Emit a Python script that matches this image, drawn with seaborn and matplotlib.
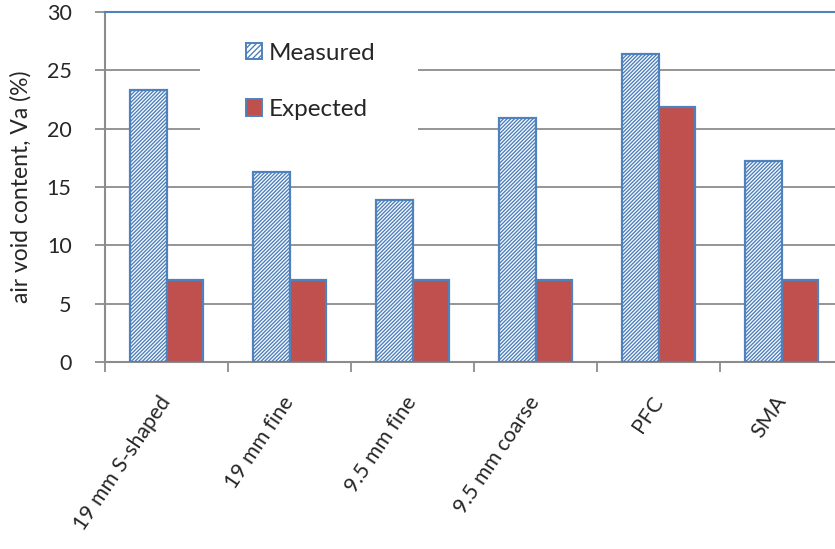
import pandas as pd
import numpy as np
import matplotlib
matplotlib.use("Agg")
import matplotlib.pyplot as plt
import seaborn as sns
from matplotlib.patches import Patch, Rectangle
from matplotlib.ticker import FixedLocator

# data
mixes = ["19 mm S-shaped", "19 mm fine", "9.5 mm fine", "9.5 mm coarse", "PFC", "SMA"]
measured = [23.3, 16.3, 13.9, 20.9, 26.4, 17.2]
expected = [7.0, 7.0, 7.0, 7.0, 21.9, 7.0]

df = pd.DataFrame({
    "mix": mixes * 2,
    "va": measured + expected,
    "type": ["Measured"] * len(mixes) + ["Expected"] * len(mixes),
})

sns.set_style("white")
plt.rcParams["font.family"] = ["Lato", "DejaVu Sans"]
plt.rcParams["hatch.linewidth"] = 1.0

blue = "#4F81BD"
red = "#C0504D"
grey = "#8C8C8C"

fig = plt.figure(figsize=(8.35, 5.49), dpi=100)
ax = fig.add_axes([105 / 835, 1 - 362 / 549, 1 - 105 / 835, 350 / 549])

sns.barplot(data=df, x="mix", y="va", hue="type", order=mixes,
            hue_order=["Measured", "Expected"],
            palette={"Measured": "white", "Expected": red}, saturation=1,
            width=0.59, ax=ax, legend=False, zorder=3)

n = len(mixes)
for i, p in enumerate(ax.patches):
    p.set_edgecolor(blue)
    p.set_linewidth(1.6)
    if i < n:
        p.set_facecolor("white")
        p.set_hatch("/////////")

ax.set_ylim(0, 30)
ax.set_yticks(range(0, 31, 5))
ax.set_xlim(-0.5, -0.5 + 730 / 123)

ax.yaxis.grid(True, color=grey, linewidth=1.3, zorder=0)
ax.set_axisbelow(True)

ax.spines["right"].set_visible(False)
ax.spines["top"].set_color(blue)
ax.spines["top"].set_linewidth(1.5)
for s in ["left", "bottom"]:
    ax.spines[s].set_color(grey)
    ax.spines[s].set_linewidth(1.5)

ax.tick_params(axis="y", which="major", left=True, length=7, width=1.3,
               color=grey, labelsize=15.5, pad=17)
ax.xaxis.set_minor_locator(FixedLocator(np.arange(-0.5, n + 0.5, 1)))
ax.tick_params(axis="x", which="minor", bottom=True, length=7, width=1.3, color=grey)
ax.tick_params(axis="x", which="major", bottom=False, length=0, pad=26)
ax.set_xticks(range(n))
ax.set_xticklabels(mixes, rotation=56, ha="right", va="center",
                   rotation_mode="anchor", fontsize=15.3)

ax.set_xlabel("")
ax.set_ylabel("air void content, Va (%)", fontsize=16.5)
ax.yaxis.set_label_coords(-0.1, 0.5)

# white box behind the legend hides the gridlines like in the original
ax.add_patch(Rectangle((0.130, 0.634), 0.299, 0.349, transform=ax.transAxes,
                       facecolor="white", edgecolor="none", zorder=1))

handles = [
    Patch(facecolor="white", edgecolor=blue, hatch="//////", linewidth=1.4),
    Patch(facecolor=red, edgecolor=blue, linewidth=1.4),
]
leg = ax.legend(handles, ["Measured", "Expected"], loc="upper left",
                bbox_to_anchor=(0.176, 0.947), frameon=False, fontsize=17.5,
                handlelength=0.66, handleheight=0.66, handletextpad=0.3,
                labelspacing=1.45, borderpad=0)
leg.set_zorder(5)

fig.savefig("out.png", dpi=100)
